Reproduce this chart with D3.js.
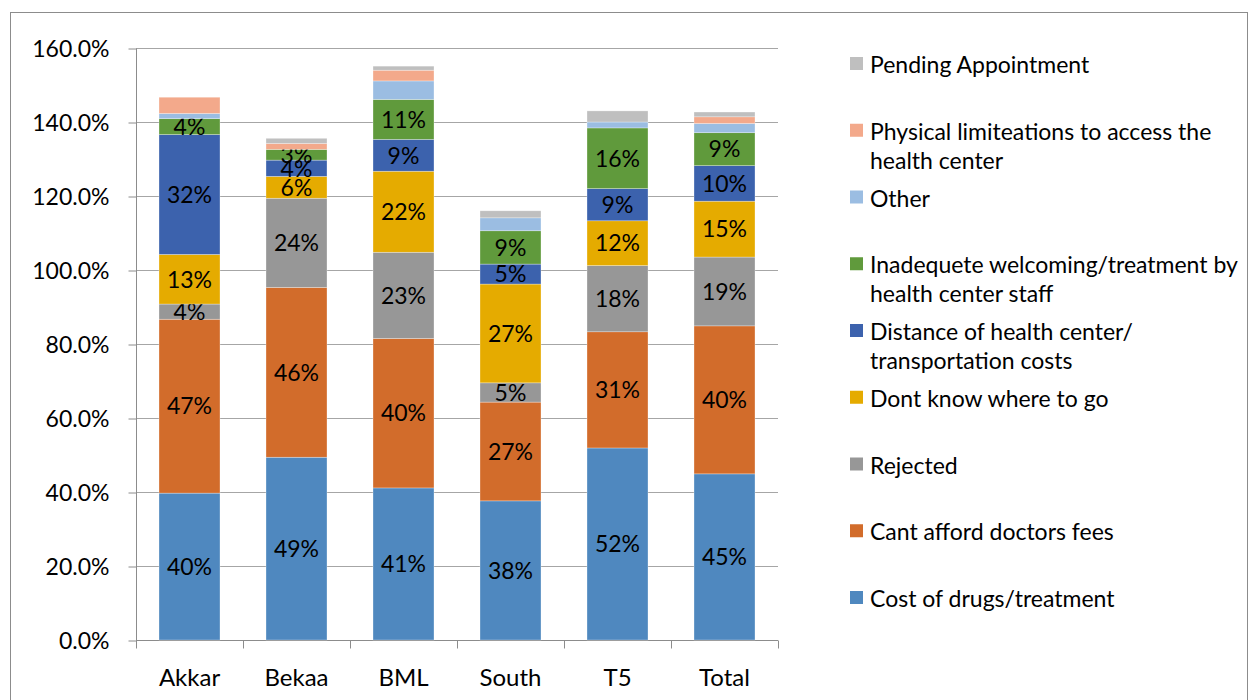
<!DOCTYPE html>
<html>
<head>
<meta charset="utf-8">
<script src="https://cdn.jsdelivr.net/npm/d3@7"></script>
<style>
	body { margin: 0; background: #fff; }
	svg text { font-family: Lato, "Open Sans", sans-serif; fill: #000; }
</style>
</head>
<body>
<div id="chart"></div>
<script>
//===== DATA =====//

var categories = ['Akkar', 'Bekaa', 'BML', 'South', 'T5', 'Total'];

var seriesNames = [
	'Cost of drugs/treatment',
	'Cant afford doctors fees',
	'Rejected',
	'Dont know where to go',
	'Distance of health center/ transportation costs',
	'Inadequete welcoming/treatment by health center staff',
	'Other',
	'Physical limiteations to access the health center',
	'Pending Appointment'
];

// legend text, wrapped as in the original
var legendLines = [
	['Cost of drugs/treatment'],
	['Cant afford doctors fees'],
	['Rejected'],
	['Dont know where to go'],
	['Distance of health center/', 'transportation costs'],
	['Inadequete welcoming/treatment by', 'health center staff'],
	['Other'],
	['Physical limiteations to access the', 'health center'],
	['Pending Appointment']
];

var costDrugs   = [39.7, 49.4, 41.1, 37.6, 51.9, 44.9];
var cantAfford  = [47.0, 45.9, 40.4, 26.7, 31.4, 40.0];
var rejected    = [4.1, 24.1, 23.3, 5.2, 17.9, 18.6];
var dontKnow    = [13.4, 5.9, 21.9, 26.7, 12.1, 15.1];
var distance    = [32.4, 4.4, 8.6, 5.4, 8.7, 9.6];
var inadequate  = [4.3, 2.9, 10.8, 9.0, 16.4, 8.9];
var other       = [1.4, 0, 5.0, 3.5, 1.6, 2.5];
var physical    = [4.4, 1.6, 2.9, 0, 0, 1.8];
var pending     = [0, 1.4, 1.1, 1.9, 3.0, 1.3];

var yTicks = [0, 20, 40, 60, 80, 100, 120, 140, 160];

var colors = ['#4f88bf', '#d26c2b', '#979797', '#e5ab00', '#3c62ad', '#609a3c', '#9bbde2', '#f3a98b', '#bfbfbf'];
var labelled = [true, true, true, true, true, true, false, false, false];

var values = [costDrugs, cantAfford, rejected, dontKnow, distance, inadequate, other, physical, pending];

//===== LAYOUT =====//

var width = 1248, height = 700;
var plot = {left: 136, right: 778, top: 48, bottom: 640};

var svg = d3.select('#chart')
	.append('svg')
	.attr('width', width)
	.attr('height', height);

// outer frame
svg.append('rect')
	.attr('x', 10.5).attr('y', 12.5)
	.attr('width', 1237).attr('height', 700)
	.attr('fill', 'none')
	.attr('stroke', '#8c8c8c')
	.attr('stroke-width', 1);

var x = d3.scaleBand()
	.domain(categories)
	.range([plot.left, plot.right])
	.paddingInner(0.43)
	.paddingOuter(0.215);

var y = d3.scaleLinear()
	.domain([0, 160])
	.range([plot.bottom, plot.top]);

// table for the stack
var table = categories.map(function (c, i) {
	var row = {category: c};
	seriesNames.forEach(function (s, k) { row[s] = values[k][i]; });
	return row;
});

var stacked = d3.stack().keys(seriesNames)(table);

//===== GRID & AXES =====//

svg.append('g')
	.selectAll('line')
	.data(yTicks.slice(1))
	.enter()
	.append('line')
	.attr('x1', plot.left).attr('x2', plot.right)
	.attr('y1', function (d) { return Math.round(y(d)) + 0.5; })
	.attr('y2', function (d) { return Math.round(y(d)) + 0.5; })
	.attr('stroke', '#a6a6a6')
	.attr('stroke-width', 1);

var yAxis = svg.append('g')
	.attr('transform', 'translate(' + (plot.left + 0.5) + ',0.5)')
	.call(d3.axisLeft(y).tickValues(yTicks).tickSize(8).tickPadding(19)
		.tickFormat(function (d) { return d.toFixed(1) + '%'; }));
yAxis.select('.domain').attr('stroke', '#8c8c8c').attr('d', 'M0,' + plot.top + 'V' + plot.bottom);
yAxis.selectAll('.tick line').attr('stroke', '#8c8c8c');
yAxis.selectAll('.tick text')
	.attr('font-size', 23)
	.attr('dy', '0.35em');

var xAxis = svg.append('g')
	.attr('transform', 'translate(0,' + (plot.bottom + 0.5) + ')');
xAxis.append('line')
	.attr('x1', plot.left).attr('x2', plot.right)
	.attr('stroke', '#8c8c8c');
xAxis.selectAll('line.tick')
	.data(d3.range(categories.length + 1))
	.enter()
	.append('line')
	.classed('tick', true)
	.attr('x1', function (i) { return Math.round(plot.left + i * x.step()) + 0.5; })
	.attr('x2', function (i) { return Math.round(plot.left + i * x.step()) + 0.5; })
	.attr('y1', 0).attr('y2', 8)
	.attr('stroke', '#8c8c8c');
xAxis.selectAll('text')
	.data(categories)
	.enter()
	.append('text')
	.attr('x', function (d) { return x(d) + x.bandwidth() / 2; })
	.attr('y', 45)
	.attr('text-anchor', 'middle')
	.attr('font-size', 24)
	.text(function (d) { return d; });

//===== BARS =====//

var layers = svg.append('g')
	.selectAll('g.layer')
	.data(stacked)
	.enter()
	.append('g')
	.classed('layer', true)
	.attr('fill', function (d, k) { return colors[k]; });

layers.selectAll('rect')
	.data(function (d) { return d; })
	.enter()
	.append('rect')
	.attr('x', function (d) { return x(d.data.category); })
	.attr('width', x.bandwidth())
	.attr('y', function (d) { return y(d[1]); })
	.attr('height', function (d) { return y(d[0]) - y(d[1]); })
	.attr('stroke', '#ffffff')
	.attr('stroke-opacity', 0.5)
	.attr('stroke-width', 0.6);

layers.filter(function (d, k) { return labelled[k]; })
	.selectAll('text')
	.data(function (d) { return d.filter(function (p) { return p[1] - p[0] > 0; }); })
	.enter()
	.append('text')
	.attr('x', function (d) { return x(d.data.category) + x.bandwidth() / 2; })
	.attr('y', function (d) { return y((d[0] + d[1]) / 2); })
	.attr('dy', '0.36em')
	.attr('text-anchor', 'middle')
	.attr('font-size', 23)
	.text(function (d) { return Math.round(d[1] - d[0]) + '%'; });

//===== LEGEND =====//

var legend = svg.append('g')
	.selectAll('g.item')
	.data(seriesNames)
	.enter()
	.append('g')
	.classed('item', true)
	.attr('transform', function (d, k) {
		return 'translate(850,' + (599 - k * 66.75) + ')';
	});

legend.append('rect')
	.attr('x', 0).attr('y', -8)
	.attr('width', 13).attr('height', 13)
	.attr('fill', function (d, k) { return colors[k]; });

legend.append('text')
	.attr('font-size', 23)
	.each(function (d, k) {
		var t = d3.select(this);
		legendLines[k].forEach(function (line, j) {
			t.append('tspan')
				.attr('x', 20)
				.attr('y', j * 29)
				.attr('dy', '0.35em')
				.text(line);
		});
	});
</script>
</body>
</html>
